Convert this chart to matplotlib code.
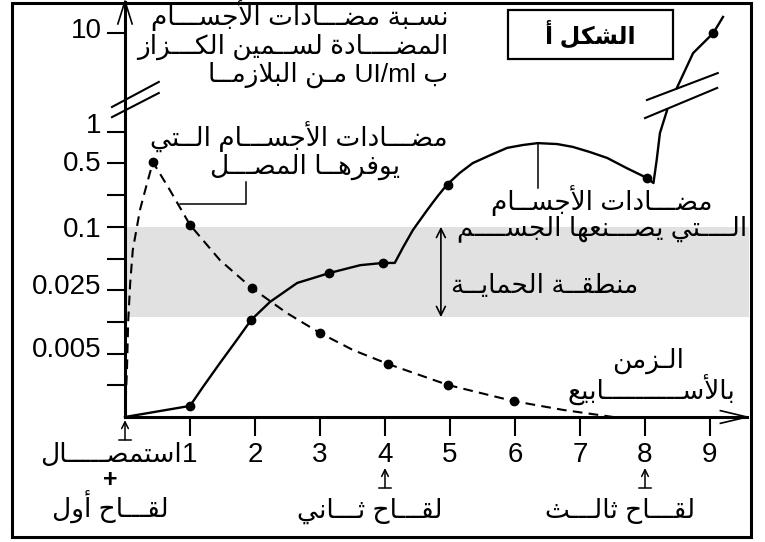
import matplotlib
matplotlib.use("Agg")
import matplotlib.pyplot as plt
import matplotlib.transforms as mtransforms
from matplotlib.patches import Rectangle

# Latin text in an Arial-like face, Arabic falls back to DejaVu Sans
plt.rcParams['font.family'] = ['Liberation Sans', 'DejaVu Sans']
plt.rcParams['lines.scale_dashes'] = False

# ---------------- data ----------------
# x is in weeks, y is in "steps" of the (schematic, non linear) antibody scale
week_ticks = [1, 2, 3, 4, 5, 6, 7, 8, 9]
week_labels = ['1', '2', '3', '4', '5', '6', '7', '8', '9']
level_ticks = [1, 2, 3, 4, 5, 6, 7, 8, 9, 12.1]
level_labels = ['', '0.005', '', '0.025', '', '0.1', '', '0.5', '1', '10']

# antibodies made by the body (solid line)
body_x = [0, 1.00, 1.20, 1.46, 1.72, 1.94, 2.23, 2.65, 2.89, 3.14, 3.62, 3.97,
          4.15, 4.28, 4.43, 4.65, 4.80, 4.95, 5.15, 5.35, 5.62, 5.88, 6.12, 6.35,
          6.65, 6.89, 7.15, 7.42, 7.72, 8.03, 8.13, 8.18, 8.23, 8.34]
body_y = [0, 0.35, 0.95, 1.70, 2.43, 3.06, 3.63, 4.23, 4.38, 4.54, 4.79, 4.86,
          4.86, 5.36, 5.90, 6.53, 6.94, 7.32, 7.70, 8.01, 8.26, 8.49, 8.58, 8.64,
          8.61, 8.52, 8.36, 8.17, 7.85, 7.54, 7.38, 8.11, 8.96, 9.68]
# the part above the break
body_top_x = [8.49, 8.74, 9.05, 9.20]
body_top_y = [10.38, 11.48, 12.11, 12.62]
# measured points on that curve
body_dot_x = [1.00, 1.94, 3.14, 3.97, 4.97, 8.03, 9.05]
body_dot_y = [0.35, 3.06, 4.54, 4.86, 7.32, 7.54, 12.11]

# antibodies given by the serum (dashed line)
serum_x = [0, 0.03, 0.05, 0.08, 0.12, 0.23, 0.34, 0.43, 0.69, 1.00, 1.46, 1.95,
           2.49, 3.00, 3.51, 4.05, 4.97, 5.98, 6.75, 7.51]
serum_y = [0, 1.48, 3.06, 4.23, 5.27, 6.53, 7.38, 8.04, 7.16, 6.06, 4.95, 4.07,
           3.28, 2.65, 2.11, 1.67, 1.01, 0.50, 0.22, 0]
serum_dot_x = [0.43, 1.00, 1.95, 3.00, 4.05, 4.97, 5.98]
serum_dot_y = [8.04, 6.06, 4.07, 2.65, 1.67, 1.01, 0.50]

# protection zone (between 0.025-ish and 0.1)
zone_low = 3.15
zone_high = 6.0

# vaccine doses (weeks)
dose_weeks = [0, 4, 8]


# ---------------- simple arabic shaping ----------------
# matplotlib does not join arabic letters, so we pick the presentation forms
# ourselves and reverse the string (right to left)
DUAL = {'ب': 0xFE8F, 'ت': 0xFE95, 'ث': 0xFE99, 'ج': 0xFE9D, 'ح': 0xFEA1,
        'خ': 0xFEA5, 'س': 0xFEB1, 'ش': 0xFEB5, 'ص': 0xFEB9, 'ض': 0xFEBD,
        'ط': 0xFEC1, 'ظ': 0xFEC5, 'ع': 0xFEC9, 'غ': 0xFECD, 'ف': 0xFED1,
        'ق': 0xFED5, 'ك': 0xFED9, 'ل': 0xFEDD, 'م': 0xFEE1, 'ن': 0xFEE5,
        'ه': 0xFEE9, 'ي': 0xFEF1}
RIGHT = {'ا': 0xFE8D, 'أ': 0xFE83, 'إ': 0xFE87, 'آ': 0xFE81, 'د': 0xFEA9,
         'ذ': 0xFEAB, 'ر': 0xFEAD, 'ز': 0xFEAF, 'و': 0xFEED, 'ة': 0xFE93,
         'ى': 0xFEEF}
LAMALEF = {'ا': 0xFEFB, 'أ': 0xFEF7, 'إ': 0xFEF9, 'آ': 0xFEF5}
TATWEEL = '\u0640'


def join_kind(tok):
    if tok[0] == 'LA':
        return 'R'
    c = tok[1]
    if c in DUAL or c == TATWEEL:
        return 'D'
    if c in RIGHT:
        return 'R'
    return 'N'


def ar(text):
    tokens = []
    i = 0
    while i < len(text):
        c = text[i]
        if c == 'ل' and i + 1 < len(text) and text[i + 1] in LAMALEF:
            tokens.append(('LA', text[i + 1]))
            i += 2
        else:
            tokens.append(('C', c))
            i += 1
    out = []
    for j, tok in enumerate(tokens):
        k = join_kind(tok)
        prev = j > 0 and join_kind(tokens[j - 1]) == 'D' and k != 'N'
        nxt = k == 'D' and j + 1 < len(tokens) and join_kind(tokens[j + 1]) in 'DR'
        if tok[0] == 'LA':
            out.append(chr(LAMALEF[tok[1]] + (1 if prev else 0)))
            continue
        c = tok[1]
        if c == TATWEEL or k == 'N':
            out.append(c)
        elif k == 'D':
            idx = 3 if (prev and nxt) else 1 if prev else 2 if nxt else 0
            out.append(chr(DUAL[c] + idx))
        else:
            out.append(chr(RIGHT[c] + (1 if prev else 0)))
    return ''.join(out)[::-1]


T = TATWEEL

# ---------------- figure ----------------
fig = plt.figure(figsize=(7.65, 5.42), dpi=100)
ax = fig.add_axes([0, 0, 1, 1])
# origin of the graph sits at pixel (125, 417): 65 px per week, 31.7 px per step
ax.set_xlim(-125 / 65, 640 / 65)
ax.set_ylim(-125 / 31.7, 417 / 31.7)

# outer frame
ax.add_patch(Rectangle((-1.738, -3.785), 11.37, 16.85, fill=False, lw=2.2,
                       edgecolor='black', zorder=5))

# axes lines
for side in ['top', 'right']:
    ax.spines[side].set_visible(False)
ax.spines['left'].set_position(('data', 0))
ax.spines['bottom'].set_position(('data', 0))
ax.spines['left'].set_bounds(0, 13.1)
ax.spines['bottom'].set_bounds(0, 9.57)
ax.spines['left'].set_linewidth(2.2)
ax.spines['bottom'].set_linewidth(2.2)

ax.set_xticks(week_ticks, week_labels)
ax.set_yticks(level_ticks, level_labels)
ax.tick_params(axis='both', direction='out', width=1.5, labelsize=20)
ax.tick_params(axis='x', length=14, pad=4)
ax.tick_params(axis='y', length=13, pad=4)
# the labels of the y ticks sit a little above their ticks in the original
lift_px = [0, 7, 0, 6, 0, 0, 0, 2, 9, 5]
for lab, dy in zip(ax.get_yticklabels(), lift_px):
    lab.set_transform(lab.get_transform() +
                      mtransforms.ScaledTranslation(0, dy / 100, fig.dpi_scale_trans))

# open arrow heads at the end of the axes
ax.plot([-0.11, 0, 0.11], [12.4, 13.12, 12.4], color='black', lw=1.2)
ax.plot([9.16, 9.57, 9.16], [0.2, 0, -0.2], color='black', lw=1.2)

# break marks on the y axis and on the curve
ax.plot([-0.2, 0.52], [9.78, 10.57], color='black', lw=1.5)
ax.plot([-0.2, 0.52], [9.46, 10.22], color='black', lw=1.5)
ax.plot([8.03, 9.12], [10.0, 10.85], color='black', lw=1.5)
ax.plot([8.0, 9.11], [9.43, 10.38], color='black', lw=1.5)

# protection zone
ax.fill_between([0, 9.6], zone_low, zone_high, color='#e1e1e1', lw=0, zorder=0)
ax.annotate('', xy=(4.86, zone_high), xytext=(4.86, zone_low),
            arrowprops=dict(arrowstyle='<->', lw=1.2, mutation_scale=16,
                            shrinkA=0, shrinkB=0))

# the two curves
ax.plot(body_x, body_y, color='black', lw=1.7, zorder=3, solid_joinstyle='round')
ax.plot(body_top_x, body_top_y, color='black', lw=1.7, zorder=3)
ax.plot(body_dot_x, body_dot_y, 'o', color='black', ms=6, zorder=4)
ax.plot(serum_x, serum_y, color='black', lw=1.5, dashes=(7, 4.5), zorder=3)
ax.plot(serum_dot_x, serum_dot_y, 'o', color='black', ms=6, zorder=4)

# leader lines for the curve labels
ax.plot([1.86, 1.86, 0.85], [7.41, 6.72, 6.72], color='black', lw=1.1)
ax.plot([6.35, 6.35], [8.64, 7.22], color='black', lw=1.1)

# dose arrows under the time axis
for w in dose_weeks:
    top = -0.1 if w == 0 else -1.61
    ax.annotate('', xy=(w, top), xytext=(w, top - 0.62),
                arrowprops=dict(arrowstyle='->', lw=1.1, mutation_scale=12,
                                shrinkA=0, shrinkB=0))
    ax.plot([w - 0.09, w + 0.09], [top - 0.62, top - 0.62], color='black', lw=1.1)

# ---------------- texts ----------------
fs = 19
ax.text(4.97, 12.36, ar('نس' + T + 'بة مض' + T * 3 + 'ادات الأجس' + T * 3 + 'ام'),
        ha='right', va='baseline', fontsize=fs)
ax.text(4.97, 11.46, ar('المض' + T * 4 + 'ادة لس' + T * 2 + 'مين الك' + T * 3 + 'زاز'),
        ha='right', va='baseline', fontsize=fs)
ax.text(4.97, 10.57, ar('م' + T + 'ن البلازم' + T * 2 + 'ا') + ' UI/ml ' + ar('ب'),
        ha='right', va='baseline', fontsize=fs)

ax.text(4.97, 8.52, ar('مض' + T * 3 + 'ادات الأجس' + T * 3 + 'ام ال' + T * 2 + 'تي'),
        ha='right', va='baseline', fontsize=fs)
ax.text(2.77, 7.68, ar('يوفره' + T * 2 + 'ا المص' + T * 3 + 'ل'),
        ha='center', va='baseline', fontsize=fs)

ax.text(7.34, 6.53, ar('مض' + T * 3 + 'ادات الأجس' + T * 2 + 'ام'),
        ha='center', va='baseline', fontsize=fs)
ax.text(9.57, 5.74, ar('ال' + T * 4 + 'تي يص' + T * 3 + 'نعها الجس' + T * 4 + 'م'),
        ha='right', va='baseline', fontsize=fs)
ax.text(6.46, 3.91, ar('منطق' + T * 2 + 'ة الحماي' + T * 2 + 'ة'),
        ha='center', va='baseline', fontsize=fs)

ax.text(8.05, 1.55, ar('ال' + T + 'زمن'), ha='center', va='baseline', fontsize=fs)
ax.text(8.1, 0.55, ar('بالأس' + T * 10 + 'ابيع'), ha='center', va='baseline', fontsize=fs)

ax.text(0.88, -1.42, ar('استمص' + T * 5 + 'ال'), ha='right', va='baseline', fontsize=fs)
ax.text(-0.23, -1.98, '+', ha='center', va='center', fontsize=18, fontweight='bold')
ax.text(-0.22, -3.18, ar('لق' + T * 3 + 'اح أول'), ha='center', va='baseline', fontsize=fs)
ax.text(3.77, -3.18, ar('لق' + T * 3 + 'اح ث' + T * 3 + 'اني'), ha='center', va='baseline', fontsize=fs)
ax.text(7.62, -3.18, ar('لق' + T * 3 + 'اح ثال' + T * 3 + 'ث'), ha='center', va='baseline', fontsize=fs)

# title box
ax.add_patch(Rectangle((5.89, 11.29), 2.54, 1.55, fill=False, lw=1.6, edgecolor='black'))
ax.text(7.16, 12.07, ar('الشكل أ'), ha='center', va='center', fontsize=17,
        fontweight='bold')

fig.savefig('out.png', dpi=100)
